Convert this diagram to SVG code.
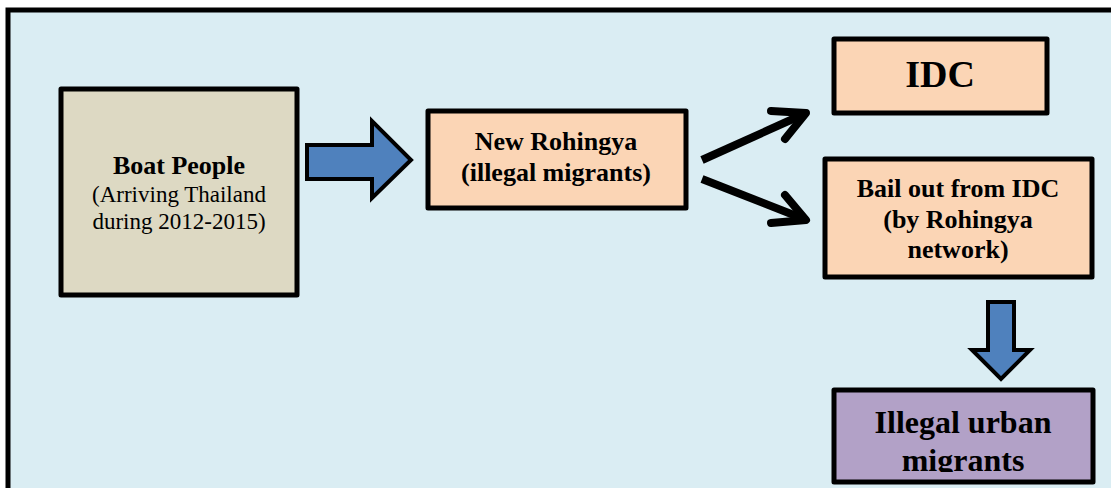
<svg xmlns="http://www.w3.org/2000/svg" width="1111" height="488" viewBox="0 0 1111 488">
  <style>
    .box { stroke: #000; stroke-width: 5; stroke-linejoin: round; }
    .peach { fill: #FBD5B5; }
    .t { font-family: "Liberation Serif", "Times New Roman", serif; fill: #000; text-anchor: middle; }
    .b { font-weight: bold; }
    .block { fill: #4F81BD; stroke: #000; stroke-width: 4; stroke-linejoin: miter; }
    .line { stroke: #000; stroke-width: 8; fill: none; }
  </style>
  <defs>
    <clipPath id="urban-clip">
      <rect x="834" y="390" width="259" height="82"/>
    </clipPath>
  </defs>
  <rect width="1111" height="488" fill="#ffffff"/>
  <!-- outer frame -->
  <rect x="8" y="10" width="1120" height="500" fill="#DAEDF3" stroke="#000" stroke-width="5"/>

  <g id="boat-people">
    <rect class="box" x="61" y="89" width="236" height="206" fill="#DDD9C3"/>
    <text class="t b" x="179" y="174" font-size="26">Boat People</text>
    <text class="t" x="179" y="202" font-size="23">(Arriving Thailand</text>
    <text class="t" x="179" y="229" font-size="23">during 2012-2015)</text>
  </g>

  <g id="new-rohingya">
    <rect class="box peach" x="428" y="111" width="258" height="97"/>
    <text class="t b" x="556" y="150" font-size="26">New Rohingya</text>
    <text class="t b" x="556" y="181" font-size="26">(illegal migrants)</text>
  </g>

  <g id="idc">
    <rect class="box peach" x="834" y="39" width="213" height="74"/>
    <text class="t b" x="940" y="87" font-size="38">IDC</text>
  </g>

  <g id="bail-out">
    <rect class="box peach" x="825" y="159" width="267" height="118"/>
    <text class="t b" x="958" y="197" font-size="26">Bail out from IDC</text>
    <text class="t b" x="958" y="228" font-size="26">(by Rohingya</text>
    <text class="t b" x="958" y="258" font-size="26">network)</text>
  </g>

  <g id="illegal-urban">
    <rect class="box" x="834" y="390" width="259" height="92" fill="#B2A1C7"/>
    <g clip-path="url(#urban-clip)">
      <text class="t b" x="963" y="433" font-size="32">Illegal urban</text>
      <text class="t b" x="963" y="471" font-size="32">migrants</text>
    </g>
  </g>

  <g id="connectors">
    <!-- block arrow: boat people to new rohingya -->
    <path class="block" d="M307,145 L372,145 L372,121 L411,160 L372,198 L372,179 L307,179 Z"/>
    <!-- block arrow: bail out to illegal urban migrants -->
    <path class="block" d="M988,302 L1014,302 L1014,350 L1030,350 L1001,379 L972,350 L988,350 Z"/>
    <!-- split arrows from new rohingya -->
    <line class="line" x1="702" y1="160" x2="804" y2="114"/>
    <polyline class="line" stroke-linecap="round" stroke-linejoin="round" points="771,111 806,113 785,139"/>
    <line class="line" x1="702" y1="179" x2="804" y2="219"/>
    <polyline class="line" stroke-linecap="round" stroke-linejoin="round" points="785,195 806,220 771,223"/>
  </g>
</svg>
